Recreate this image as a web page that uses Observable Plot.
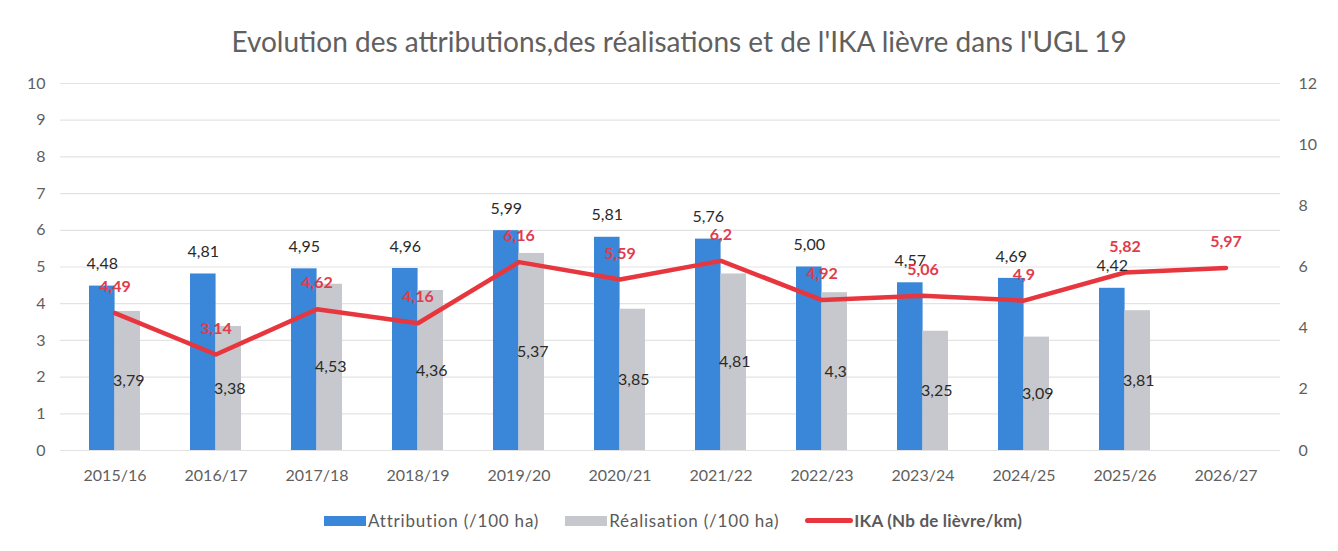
<!DOCTYPE html>
<html>
<head>
<meta charset="utf-8">
<script src="https://cdn.jsdelivr.net/npm/d3@7"></script>
<script src="https://cdn.jsdelivr.net/npm/@observablehq/plot@0.6"></script>
<style>
  html, body { margin: 0; padding: 0; background: #fff; }
  body { width: 1338px; height: 551px; position: relative; overflow: hidden; font-family: Lato, "Open Sans", sans-serif; }
  #title { position: absolute; left: 10px; top: 0; width: 1338px; text-align: center; font-size: 28px; line-height: 28px; padding-top: 27px; color: #606060; }
  #chart { position: absolute; left: 0; top: 65px; }
  #legend { position: absolute; left: 4px; top: 510px; width: 1338px; display: flex; justify-content: center; align-items: center; font-size: 17px; color: #5a5a5a; letter-spacing: 0.8px; }
  .item { display: flex; align-items: center; margin: 0 13px; }
  .sw { width: 42px; height: 10px; margin-right: 2px; }
  .ln { width: 48px; height: 5px; border-radius: 2.5px; margin-right: 1px; }
</style>
</head>
<body>
<div id="title">Evolution des attributions,des réalisations et de l'IKA lièvre dans l'UGL 19</div>
<div id="chart"></div>
<div id="legend"></div>
<script>
const years = ["2015/16","2016/17","2017/18","2018/19","2019/20","2020/21","2021/22","2022/23","2023/24","2024/25","2025/26","2026/27"];
const attribution = [4.48, 4.81, 4.95, 4.96, 5.99, 5.81, 5.76, 5.00, 4.57, 4.69, 4.42, null];
const realisation = [3.79, 3.38, 4.53, 4.36, 5.37, 3.85, 4.81, 4.3, 3.25, 3.09, 3.81, null];
const ika = [4.49, 3.14, 4.62, 4.16, 6.16, 5.59, 6.2, 4.92, 5.06, 4.9, 5.82, 5.97];
const leftTicks = [0,1,2,3,4,5,6,7,8,9,10];
const rightTicks = [0,2,4,6,8,10,12];
const seriesNames = ["Attribution (/100 ha)", "Réalisation (/100 ha)", "IKA (Nb de lièvre/km)"];

const colors = { attr: "#3a86d8", real: "#c7c8cd", ika: "#e8363f", ikaText: "#e23b4b", text: "#2a2a2a", axis: "#5f5f5f", grid: "#e3e3e3" };

const W = 1338, H = 430, mL = 60, mR = 58, mT = 18, mB = 45;
const rightMax = 12, leftMax = 10;
const toLeft = v => v * leftMax / rightMax;

const data = years.map((y, i) => ({ year: y, attr: attribution[i], real: realisation[i], ika: ika[i] }));
const fr = (v, d) => (d == null ? String(v) : v.toFixed(d)).replace(".", ",");

const step = (W - mL - mR) / years.length;
const half = step * 0.5 / 2;

const chart = Plot.plot({
  width: W, height: H,
  marginLeft: mL, marginRight: mR, marginTop: mT, marginBottom: mB,
  style: { fontFamily: "Lato, 'Open Sans', sans-serif", fontSize: "16px", color: colors.axis, background: "transparent" },
  x: { domain: years, type: "band", paddingInner: 0.5, paddingOuter: 0.25, label: null },
  y: { domain: [0, leftMax], label: null },
  marks: [
    Plot.gridY(leftTicks, { stroke: colors.grid, strokeOpacity: 1, strokeWidth: 1.2 }),
    Plot.barY(data.filter(d => d.attr != null), { x: "year", y: "attr", fill: colors.attr, insetLeft: 0, insetRight: half }),
    Plot.barY(data.filter(d => d.real != null), { x: "year", y: "real", fill: colors.real, insetLeft: half, insetRight: 0 }),
    Plot.line(data, { x: "year", y: d => toLeft(d.ika), stroke: colors.ika, strokeWidth: 4.5, strokeLinejoin: "round", strokeLinecap: "round" }),
    Plot.text(data.filter(d => d.attr != null), { x: "year", y: "attr", text: d => fr(d.attr, 2), dx: -half / 2, dy: -22, fill: colors.text, fontSize: 16 }),
    Plot.text(data.filter(d => d.real != null), { x: "year", y: d => d.real / 2, text: d => fr(d.real), dx: half / 2 + 1, fill: colors.text, fontSize: 16 }),
    Plot.text(data, { x: "year", y: d => toLeft(d.ika), text: d => fr(d.ika), dy: -26, fill: colors.ikaText, fontSize: 16, fontWeight: "bold" }),
    Plot.axisY(leftTicks, { anchor: "left", tickSize: 0, tickPadding: 15, fontSize: 16, fill: colors.axis, label: null }),
    Plot.axisY(rightTicks.map(toLeft), { anchor: "right", tickSize: 0, tickPadding: 18, fontSize: 16, fill: colors.axis, tickFormat: d => String(Math.round(d * rightMax / leftMax)), label: null }),
    Plot.axisX({ tickSize: 0, tickPadding: 19, fontSize: 16, fill: colors.axis, label: null })
  ]
});
document.getElementById("chart").appendChild(chart);

const legend = document.getElementById("legend");
const items = [
  { name: seriesNames[0], kind: "sw", color: colors.attr, bold: false },
  { name: seriesNames[1], kind: "sw", color: colors.real, bold: false },
  { name: seriesNames[2], kind: "ln", color: colors.ika, bold: true }
];
for (const it of items) {
  const d = document.createElement("div");
  d.className = "item";
  const s = document.createElement("div");
  s.className = it.kind;
  s.style.background = it.color;
  const t = document.createElement("span");
  t.textContent = it.name;
  if (it.bold) { t.style.fontWeight = "bold"; t.style.letterSpacing = "0.2px"; }
  d.appendChild(s); d.appendChild(t);
  legend.appendChild(d);
}
</script>
</body>
</html>
